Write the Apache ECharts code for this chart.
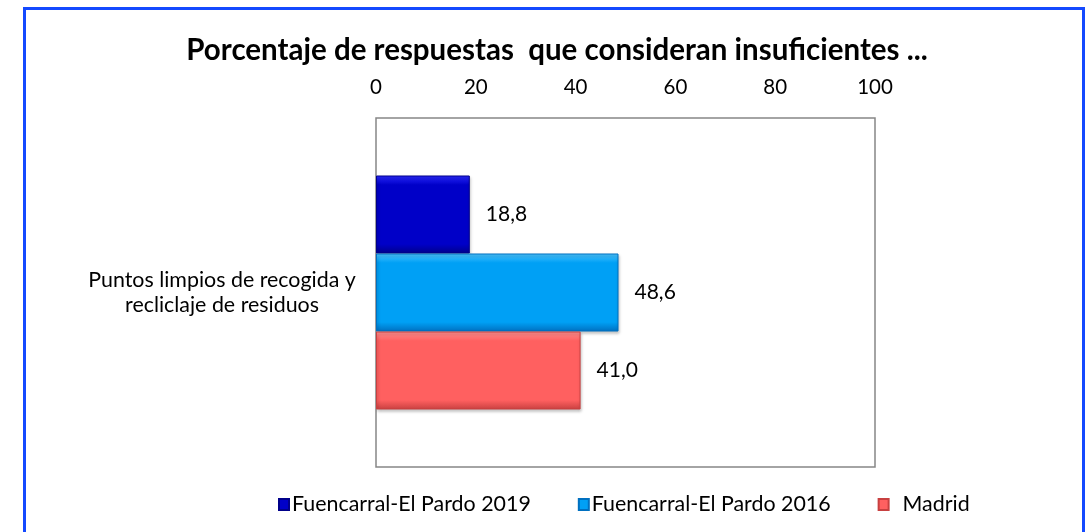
<!DOCTYPE html>
<html>
<head>
<meta charset="utf-8">
<script src="https://cdn.jsdelivr.net/npm/echarts@6/dist/echarts.min.js"></script>
<style>
  html, body { margin: 0; padding: 0; background: #fff; overflow: hidden; }
  .frame {
    position: absolute; left: 23px; top: 7px; width: 1056px; height: 600px;
    border: 3px solid #1449ff;
  }
  #chart { position: absolute; left: 0; top: 0; width: 1091px; height: 532px; }
</style>
</head>
<body>
<div class="frame"></div>
<div id="chart"></div>
<script>
  const categories = ['Puntos limpios de recogida y\nrecliclaje de residuos'];
  const seriesNames = ['Fuencarral-El Pardo 2019', 'Fuencarral-El Pardo 2016', 'Madrid'];
  const values2019 = [18.8];
  const values2016 = [48.6];
  const valuesMadrid = [41.0];
  const xTicks = [0, 20, 40, 60, 80, 100];

  // colores: claro arriba, base, oscuro abajo (efecto bisel)
  const palette = [
    ['#2a2aff', '#0000c8', '#00008a'],
    ['#4cc4ff', '#00a0f5', '#0070c0'],
    ['#ff9090', '#ff6060', '#c84040']
  ];

  function grad(c) {
    return new echarts.graphic.LinearGradient(0, 0, 0, 1, [
      { offset: 0, color: c[0] },
      { offset: 0.12, color: c[1] },
      { offset: 0.88, color: c[1] },
      { offset: 1, color: c[2] }
    ]);
  }

  const fmt = p => p.value.toFixed(1).replace('.', ',');

  const chart = echarts.init(document.getElementById('chart'));
  const option = {
    backgroundColor: 'transparent',
    animation: false,
    textStyle: { fontFamily: 'Lato' },
    title: {
      text: 'Porcentaje de respuestas  que consideran insuficientes ...',
      left: 552,
      top: 30,
      textAlign: 'center',
      textStyle: { fontFamily: 'Lato', fontWeight: 'bold', fontSize: 29.5, color: '#000' }
    },
    legend: {
      data: seriesNames,
      left: 273,
      top: 489,
      icon: 'rect',
      itemWidth: 10,
      itemHeight: 11,
      itemGap: 47,
      textStyle: { fontFamily: 'Lato', fontSize: 21.4, color: '#000', padding: [0, 0, 0, -2] },
      formatter: n => (n === 'Madrid' ? '  ' + n : n)
    },
    grid: {
      left: 376, right: 216, top: 118, bottom: 65,
      show: true, borderColor: '#868686', borderWidth: 1.5
    },
    xAxis: {
      type: 'value',
      position: 'top',
      min: xTicks[0],
      max: xTicks[xTicks.length - 1],
      interval: 20,
      axisLine: { show: false },
      axisTick: { show: false },
      splitLine: { show: false },
      axisLabel: { fontFamily: 'Lato', fontSize: 20.5, color: '#000', margin: 20 }
    },
    yAxis: {
      type: 'category',
      data: categories,
      inverse: true,
      axisLine: { show: false },
      axisTick: { show: false },
      axisLabel: {
        fontFamily: 'Lato', fontSize: 21.4, color: '#000', lineHeight: 25,
        align: 'center', margin: 154, padding: [10, 0, 0, 0]
      }
    },
    series: [values2019, values2016, valuesMadrid].map((d, i) => ({
      name: seriesNames[i],
      type: 'bar',
      data: d,
      barWidth: 78,
      barGap: '0%',
      itemStyle: {
        color: grad(palette[i]),
        borderColor: palette[i][2],
        borderWidth: 1,
        shadowColor: 'rgba(0,0,0,0.25)',
        shadowBlur: 3,
        shadowOffsetX: 1,
        shadowOffsetY: 2
      },
      label: {
        show: true,
        position: 'right',
        distance: 16,
        formatter: fmt,
        fontFamily: 'Lato',
        fontSize: 21,
        color: '#000'
      }
    }))
  };
  chart.setOption(option);
</script>
</body>
</html>
